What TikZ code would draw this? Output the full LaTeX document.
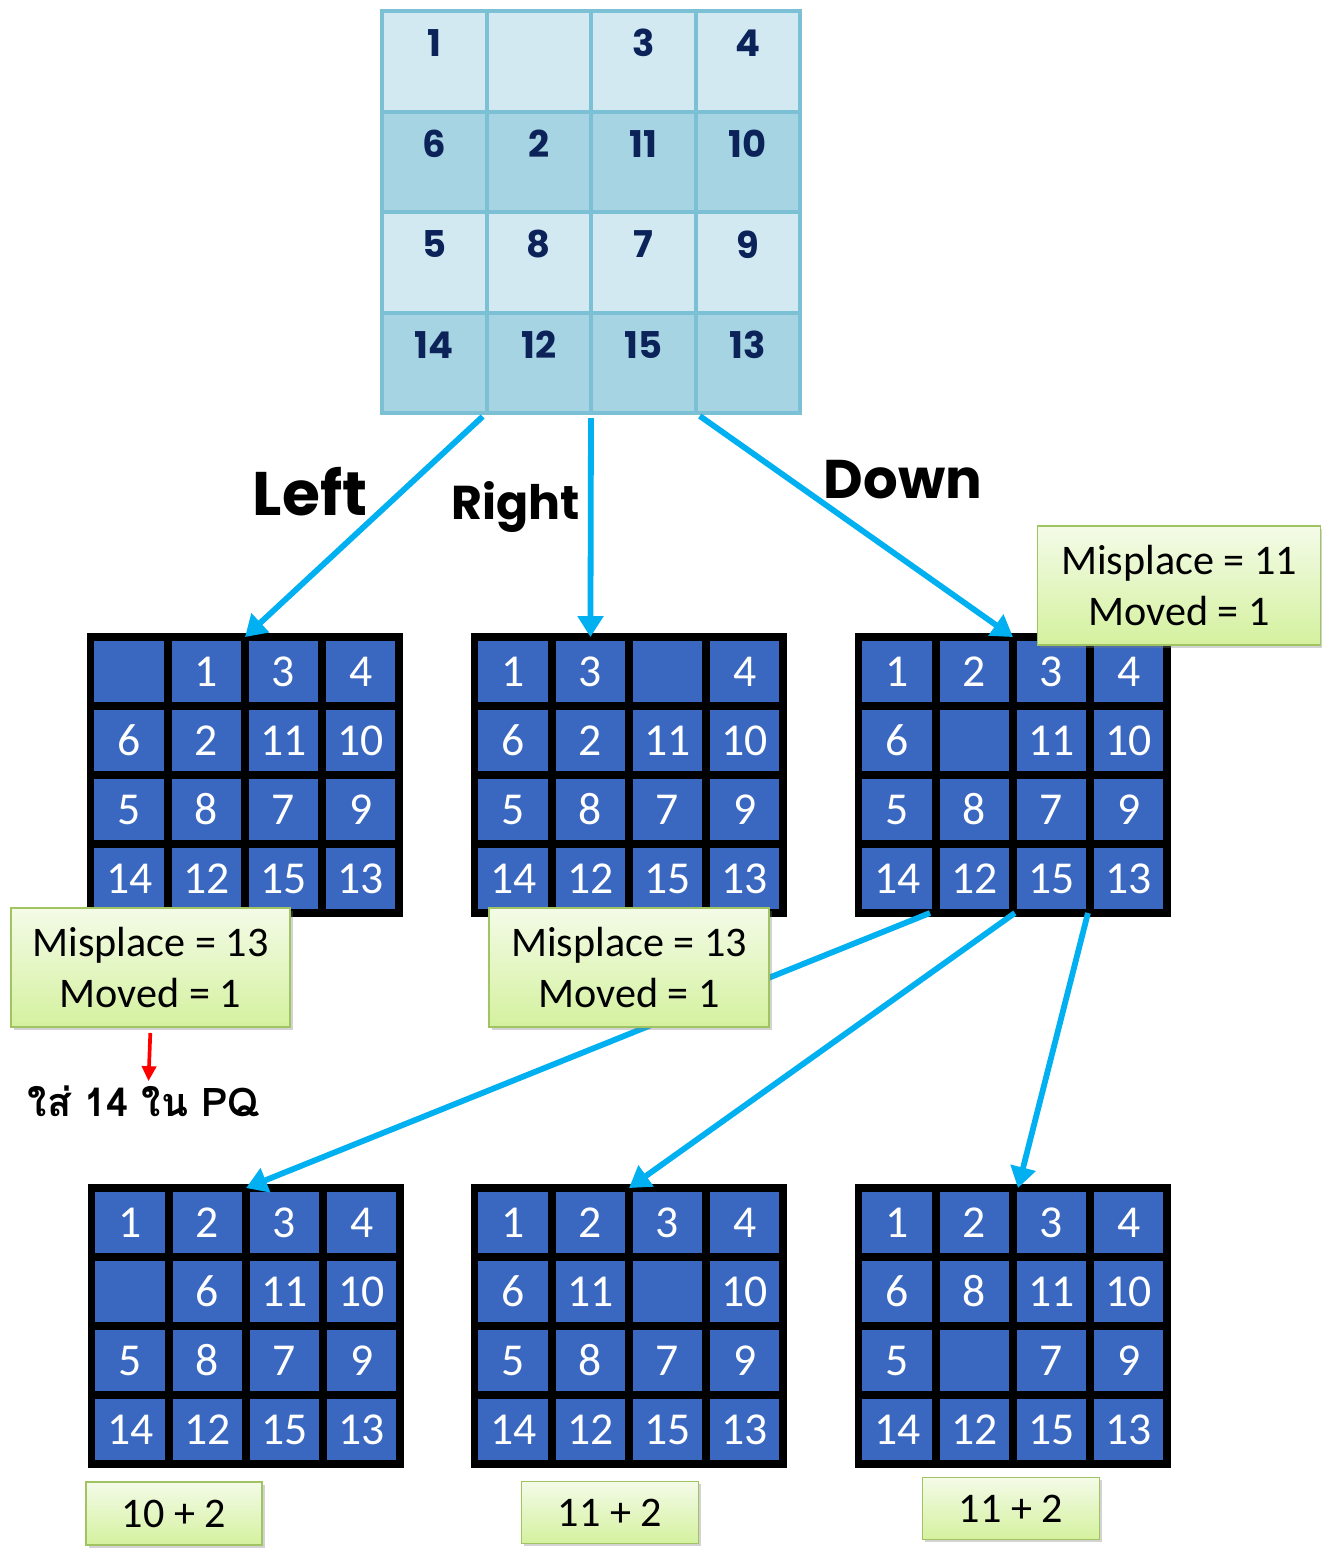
\documentclass[tikz,border=0pt]{standalone}
\usepackage{fontspec}
\setmainfont{Carlito}
\newfontfamily\chunky{Poppins}
\newfontfamily\thaifont[Script=Thai]{Loma}
\usetikzlibrary{arrows.meta,calc,shadows}

\definecolor{tileblue}{RGB}{58,104,193}
\definecolor{toplight}{RGB}{210,233,241}
\definecolor{topdark}{RGB}{166,212,226}
\definecolor{topline}{RGB}{123,192,213}
\definecolor{topink}{RGB}{12,35,90}
\definecolor{movecyan}{RGB}{0,176,240}
\definecolor{notetop}{RGB}{244,251,232}
\definecolor{notebot}{RGB}{212,241,158}
\definecolor{noteline}{RGB}{160,196,98}

\tikzset{
  gridframe/.style={minimum width=6.17cm,minimum height=5.52cm,inner sep=0pt,outer sep=0pt},
  tile/.style={draw=black,line width=4.2pt,fill=tileblue,text=white,
    minimum width=1.542cm,minimum height=1.38cm,inner sep=0pt,
    font=\fontsize{26}{26}\selectfont},
  topframe/.style={minimum width=8.36cm,minimum height=8.04cm,inner sep=0pt,outer sep=0pt},
  topcell/.style={draw=topline,line width=2.3pt,minimum width=2.09cm,minimum height=2.01cm,inner sep=0pt},
  topnum/.style={text=topink,inner sep=0pt,font=\chunky\bfseries\fontsize{21}{21}\selectfont},
  move/.style={movecyan,line width=3.3pt,-{Triangle[length=0.42cm,width=0.5cm]}},
  movelabel/.style={inner sep=0pt,font=\chunky\bfseries\fontsize{#1}{#1}\selectfont},
  note/.style={draw=noteline,line width=0.8pt,top color=notetop,bottom color=notebot,
    drop shadow={opacity=0.35,shadow xshift=1.5pt,shadow yshift=-1.5pt},
    align=center,inner sep=0pt,font=\fontsize{24}{29}\selectfont},
  hint/.style={red,line width=2.1pt,-{Triangle[length=0.3cm,width=0.28cm]}}
}

% 4x4 puzzle: name, centre, tiles row by row
\newcommand{\puzzle}[3]{%
  \node[gridframe] (#1) at (#2) {};
  \foreach \v [count=\i from 0] in {#3} {
    \pgfmathtruncatemacro{\row}{div(\i,4)}
    \pgfmathtruncatemacro{\col}{mod(\i,4)}
    \node[tile] (#1-\i) at ($(#1.north west)+(38.55+77.1*\col,34.5+69*\row)$) {\v};
  }
}

\begin{document}
\begin{tikzpicture}[x=0.02cm,y=-0.02cm]

\useasboundingbox (0,0) rectangle (1322,1553);

% Start state
\node[topframe] (start) at (591,212) {};
\foreach \v [count=\i from 0] in {1,{},3,4,6,2,11,10,5,8,7,9,14,12,15,13} {
  \pgfmathtruncatemacro{\row}{div(\i,4)}
  \pgfmathtruncatemacro{\col}{mod(\i,4)}
  \ifodd\row \def\shade{topdark}\else \def\shade{toplight}\fi
  \node[topcell,fill=\shade] (start-\i) at ($(start.north west)+(52.25+104.5*\col,50.25+100.5*\row)$) {};
  \node[topnum] (start-n\i) at ([yshift=0.36cm]start-\i.center) {\v};
}

% First moves
\puzzle{gL}{245,775}{{},1,3,4,6,2,11,10,5,8,7,9,14,12,15,13}
\puzzle{gR}{629,775}{1,3,{},4,6,2,11,10,5,8,7,9,14,12,15,13}
\puzzle{gD}{1013,775}{1,2,3,4,6,{},11,10,5,8,7,9,14,12,15,13}

% Moves after Down
\puzzle{gDL}{246,1326}{1,2,3,4,{},6,11,10,5,8,7,9,14,12,15,13}
\puzzle{gDR}{629,1326}{1,2,3,4,6,11,{},10,5,8,7,9,14,12,15,13}
\puzzle{gDD}{1013,1326}{1,2,3,4,6,8,11,10,5,{},7,9,14,12,15,13}

% Arrows
\draw[move,shorten <=3pt] ($(start.south west)!0.25!(start.south east)$) -- (gL.north);
\draw[move,shorten <=3pt] (start.south) -- ($(gR.north west)!0.375!(gR.north east)$);
\draw[move,shorten <=3pt] ($(start.south west)!0.75!(start.south east)$) -- (gD.north);

\draw[move] ($(gD.south west)!0.231!(gD.south east)$) -- (gDL.north);
\draw[move] ($(gD.south west)!0.506!(gD.south east)$) -- (gDR.north);
\draw[move] ($(gD.south west)!0.743!(gD.south east)$) -- ($(gDD.north west)!0.516!(gDD.north east)$);

\node[movelabel=35] (lblLeft) at (310,492) {Left};
\node[movelabel=27] (lblRight) at (516,507) {Right};
\node[movelabel=31] (lblDown) at (903,480) {Down};

% Scores
\node[note,minimum width=5.58cm,minimum height=2.38cm] (mL) at (150.5,967.5) {Misplace = 13\\Moved = 1};
\node[note,minimum width=5.6cm,minimum height=2.38cm] (mR) at (629,967.5) {Misplace = 13\\Moved = 1};
\node[note,minimum width=5.66cm,minimum height=2.38cm] (mD) at (1179,585.5) {Misplace = 11\\Moved = 1};

\node[note,minimum width=3.52cm,minimum height=1.26cm] (sDL) at (174,1513.5) {10 + 2};
\node[note,minimum width=3.54cm,minimum height=1.24cm] (sDR) at (610,1512.5) {11 + 2};
\node[note,minimum width=3.54cm,minimum height=1.24cm] (sDD) at (1011,1508.5) {11 + 2};

% Priority queue note
\node[inner sep=0pt,font=\thaifont\bfseries\fontsize{22.5}{22.5}\selectfont] (pq) at (144,1101) {ใส่ 14 ใน PQ};
\draw[hint,shorten <=3pt] (mL.south) -- ($(pq.north -| mL.south)+(-2,-4)$);

\end{tikzpicture}
\end{document}
